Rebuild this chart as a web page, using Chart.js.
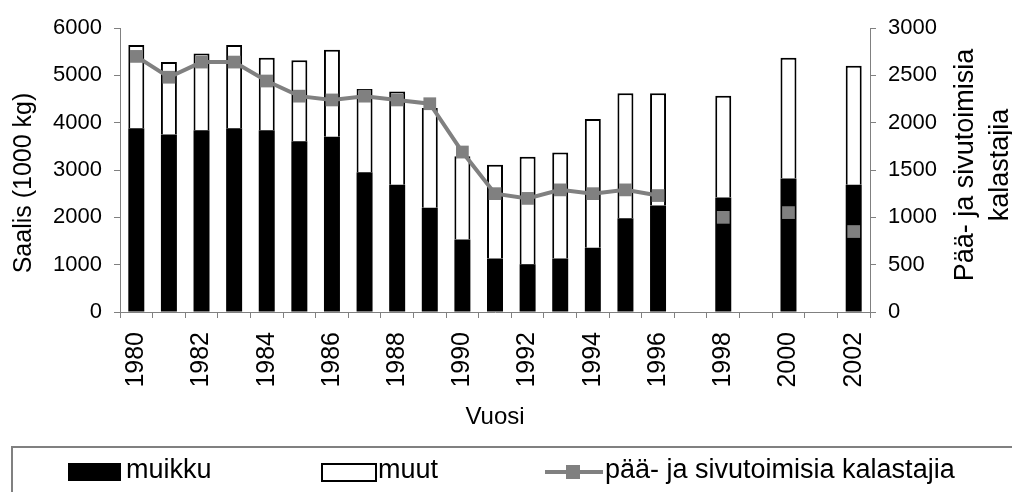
<!DOCTYPE html>
<html>
<head>
<meta charset="utf-8">
<script src="https://cdn.jsdelivr.net/npm/chart.js@4.4.1/dist/chart.umd.min.js"></script>
<style>
  body { margin: 0; background: #fff; }
  #wrap { position: relative; width: 1012px; height: 492px; overflow: hidden; font-family: 'Liberation Sans', Arial, sans-serif; }
  #myChart { position: absolute; left: 0; top: 0; }
  #legendBox { position: absolute; left: 11px; top: 446px; width: 1010px; height: 60px; border-top: 2px solid #808080; border-left: 2px solid #808080; }
  .lg { position: absolute; }
  .lgText { position: absolute; top: 454px; font-size: 27px; line-height: 30px; color: #000; white-space: nowrap; }
</style>
</head>
<body>
<div id="wrap">
  <canvas id="myChart" width="1012" height="447"></canvas>
  <div id="legendBox"></div>
  <div class="lg" style="left:68px; top:463px; width:53px; height:18px; background:#000;"></div>
  <div class="lgText" style="left:126px;">muikku</div>
  <div class="lg" style="left:321px; top:463px; width:52px; height:15px; background:#fff; border:2px solid #000;"></div>
  <div class="lgText" style="left:378px;">muut</div>
  <div class="lg" style="left:545px; top:470px; width:58px; height:4px; background:#808080;"></div>
  <div class="lg" style="left:566px; top:465px; width:14px; height:14px; background:#808080;"></div>
  <div class="lgText" style="left:605px;">pää- ja sivutoimisia kalastajia</div>
</div>
<script>
// values
const years = ['1980','1981','1982','1983','1984','1985','1986','1987','1988','1989','1990',
               '1991','1992','1993','1994','1995','1996','1997','1998','1999','2000','2001','2002'];
const muikku = [3880, 3750, 3840, 3880, 3840, 3610, 3700, 2950, 2690, 2200, 1530,
                1130, 1010, 1130, 1360, 1980, 2250, null, 2420, null, 2820, null, 2690];
const muut = [1760, 1530, 1620, 1760, 1530, 1710, 1840, 1760, 1970, 2110, 1760,
              1980, 2270, 2240, 2720, 2640, 2370, null, 2150, null, 2550, null, 2510];
const kalastajia = [2700, 2480, 2640, 2640, 2440, 2280, 2240, 2280, 2240, 2200, 1690,
                    1250, 1200, 1290, 1250, 1290, 1230, null, 1000, null, 1050, null, 850];
const leftTicks = [0, 1000, 2000, 3000, 4000, 5000, 6000];
const rightTicks = [0, 500, 1000, 1500, 2000, 2500, 3000];

const leftTitle = 'Saalis (1000 kg)';
const rightTitle = ['Pää- ja sivutoimisia', 'kalastajia'];
const xTitle = 'Vuosi';

const FONT = "'Liberation Sans', Arial, sans-serif";
const AXIS = '#808080';

// y titles drawn by hand (right one reads bottom to top like the left one)
const axisTitles = {
  id: 'axisTitles',
  afterDraw(chart) {
    const ctx = chart.ctx;
    ctx.save();
    ctx.fillStyle = '#000';
    ctx.textAlign = 'center';
    ctx.textBaseline = 'middle';
    ctx.font = '25px ' + FONT;
    ctx.translate(24, 183);
    ctx.rotate(-Math.PI / 2);
    ctx.fillText(leftTitle, 0, 0);
    ctx.restore();

    ctx.save();
    ctx.fillStyle = '#000';
    ctx.textAlign = 'center';
    ctx.textBaseline = 'middle';
    ctx.font = '27px ' + FONT;
    ctx.translate(983, 165);
    ctx.rotate(-Math.PI / 2);
    ctx.fillText(rightTitle[0], 0, -17.5);
    ctx.fillText(rightTitle[1], 0, 17.5);
    ctx.restore();
  }
};

new Chart('myChart', {
  type: 'bar',
  data: {
    labels: years,
    datasets: [
      {
        label: 'muikku',
        data: muikku,
        backgroundColor: '#000',
        borderColor: '#000',
        borderWidth: 0,
        barPercentage: 0.49,
        categoryPercentage: 1.0,
        yAxisID: 'y',
        order: 1
      },
      {
        label: 'muut',
        data: muut,
        backgroundColor: '#fff',
        borderColor: '#000',
        borderWidth: 2,
        barPercentage: 0.49,
        categoryPercentage: 1.0,
        yAxisID: 'y',
        order: 1
      },
      {
        type: 'line',
        label: 'pää- ja sivutoimisia kalastajia',
        data: kalastajia,
        borderColor: AXIS,
        backgroundColor: AXIS,
        borderWidth: 4,
        pointStyle: 'rect',
        pointRadius: 9,
        pointBorderWidth: 0,
        pointBackgroundColor: AXIS,
        spanGaps: false,
        tension: 0,
        yAxisID: 'y2',
        order: 0
      }
    ]
  },
  options: {
    responsive: false,
    animation: false,
    layout: { padding: { top: 28, left: 0, right: 0, bottom: 0 } },
    plugins: {
      legend: { display: false },
      tooltip: { enabled: false }
    },
    scales: {
      x: {
        stacked: true,
        afterFit: s => { s.height = 135; },
        border: { color: AXIS, width: 1 },
        grid: { drawOnChartArea: false, drawTicks: true, tickLength: 6, color: AXIS, offset: true },
        ticks: {
          autoSkip: false,
          maxRotation: 90,
          minRotation: 90,
          padding: 14,
          color: '#000',
          font: { family: FONT, size: 25 },
          callback: (v, i) => (i % 2 === 0 ? years[i] : '')
        },
        title: {
          display: true,
          text: xTitle,
          color: '#000',
          font: { family: FONT, size: 24 },
          padding: { top: 0, bottom: 15 }
        }
      },
      y: {
        stacked: true,
        position: 'left',
        min: 0,
        max: 6000,
        afterFit: s => { s.width = 120; },
        afterBuildTicks: s => { s.ticks = leftTicks.map(v => ({ value: v })); },
        border: { color: AXIS, width: 1 },
        grid: { drawOnChartArea: false, drawTicks: true, tickLength: 6, color: AXIS },
        ticks: { padding: 12, color: '#000', font: { family: FONT, size: 22 }, callback: v => String(v) }
      },
      y2: {
        position: 'right',
        min: 0,
        max: 3000,
        afterFit: s => { s.width = 142; },
        afterBuildTicks: s => { s.ticks = rightTicks.map(v => ({ value: v })); },
        border: { color: AXIS, width: 1 },
        grid: { drawOnChartArea: false, drawTicks: true, tickLength: 6, color: AXIS },
        ticks: { padding: 12, color: '#000', font: { family: FONT, size: 22 }, callback: v => String(v) }
      }
    }
  },
  plugins: [axisTitles]
});
</script>
</body>
</html>
